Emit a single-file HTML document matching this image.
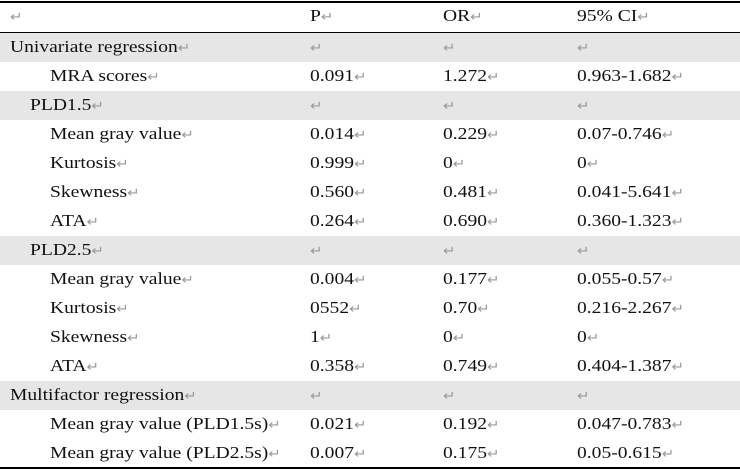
<!DOCTYPE html>
<html><head><style>
body{margin:0;width:740px;height:472px;background:#fff;font-family:"Liberation Serif",serif;font-size:17px;color:#111;position:relative;overflow:hidden}
.l{position:absolute;left:0;width:740px;height:2px;background:#000}
.r{position:absolute;left:0;width:740px;height:29px}
.s{background:#e6e6e6}
.r span{position:absolute;top:4px;white-space:nowrap;transform:scaleX(1.15);transform-origin:0 0}
i{font-style:normal;color:#999;font-size:13px;font-family:"DejaVu Sans",sans-serif}
</style></head><body>
<div class="l" style="top:1px"></div>
<div class="l" style="top:32px;height:1px"></div>
<div class="l" style="top:467px"></div>
<div class="r" style="top:2px"><span style="left:10px"><i>↵</i></span><span style="left:310px">P<i>↵</i></span><span style="left:443px">OR<i>↵</i></span><span style="left:577px">95% CI<i>↵</i></span></div>
<div class="r s" style="top:33px"><span style="left:10px">Univariate regression<i>↵</i></span><span style="left:310px"><i>↵</i></span><span style="left:443px"><i>↵</i></span><span style="left:577px"><i>↵</i></span></div>
<div class="r" style="top:62px"><span style="left:50px">MRA scores<i>↵</i></span><span style="left:310px">0.091<i>↵</i></span><span style="left:443px">1.272<i>↵</i></span><span style="left:577px">0.963-1.682<i>↵</i></span></div>
<div class="r s" style="top:91px"><span style="left:30px">PLD1.5<i>↵</i></span><span style="left:310px"><i>↵</i></span><span style="left:443px"><i>↵</i></span><span style="left:577px"><i>↵</i></span></div>
<div class="r" style="top:120px"><span style="left:50px">Mean gray value<i>↵</i></span><span style="left:310px">0.014<i>↵</i></span><span style="left:443px">0.229<i>↵</i></span><span style="left:577px">0.07-0.746<i>↵</i></span></div>
<div class="r" style="top:149px"><span style="left:50px">Kurtosis<i>↵</i></span><span style="left:310px">0.999<i>↵</i></span><span style="left:443px">0<i>↵</i></span><span style="left:577px">0<i>↵</i></span></div>
<div class="r" style="top:178px"><span style="left:50px">Skewness<i>↵</i></span><span style="left:310px">0.560<i>↵</i></span><span style="left:443px">0.481<i>↵</i></span><span style="left:577px">0.041-5.641<i>↵</i></span></div>
<div class="r" style="top:207px"><span style="left:50px">ATA<i>↵</i></span><span style="left:310px">0.264<i>↵</i></span><span style="left:443px">0.690<i>↵</i></span><span style="left:577px">0.360-1.323<i>↵</i></span></div>
<div class="r s" style="top:236px"><span style="left:30px">PLD2.5<i>↵</i></span><span style="left:310px"><i>↵</i></span><span style="left:443px"><i>↵</i></span><span style="left:577px"><i>↵</i></span></div>
<div class="r" style="top:265px"><span style="left:50px">Mean gray value<i>↵</i></span><span style="left:310px">0.004<i>↵</i></span><span style="left:443px">0.177<i>↵</i></span><span style="left:577px">0.055-0.57<i>↵</i></span></div>
<div class="r" style="top:294px"><span style="left:50px">Kurtosis<i>↵</i></span><span style="left:310px">0552<i>↵</i></span><span style="left:443px">0.70<i>↵</i></span><span style="left:577px">0.216-2.267<i>↵</i></span></div>
<div class="r" style="top:323px"><span style="left:50px">Skewness<i>↵</i></span><span style="left:310px">1<i>↵</i></span><span style="left:443px">0<i>↵</i></span><span style="left:577px">0<i>↵</i></span></div>
<div class="r" style="top:352px"><span style="left:50px">ATA<i>↵</i></span><span style="left:310px">0.358<i>↵</i></span><span style="left:443px">0.749<i>↵</i></span><span style="left:577px">0.404-1.387<i>↵</i></span></div>
<div class="r s" style="top:381px"><span style="left:10px">Multifactor regression<i>↵</i></span><span style="left:310px"><i>↵</i></span><span style="left:443px"><i>↵</i></span><span style="left:577px"><i>↵</i></span></div>
<div class="r" style="top:410px"><span style="left:50px">Mean gray value (PLD1.5s)<i>↵</i></span><span style="left:310px">0.021<i>↵</i></span><span style="left:443px">0.192<i>↵</i></span><span style="left:577px">0.047-0.783<i>↵</i></span></div>
<div class="r" style="top:439px"><span style="left:50px">Mean gray value (PLD2.5s)<i>↵</i></span><span style="left:310px">0.007<i>↵</i></span><span style="left:443px">0.175<i>↵</i></span><span style="left:577px">0.05-0.615<i>↵</i></span></div>
</body></html>
